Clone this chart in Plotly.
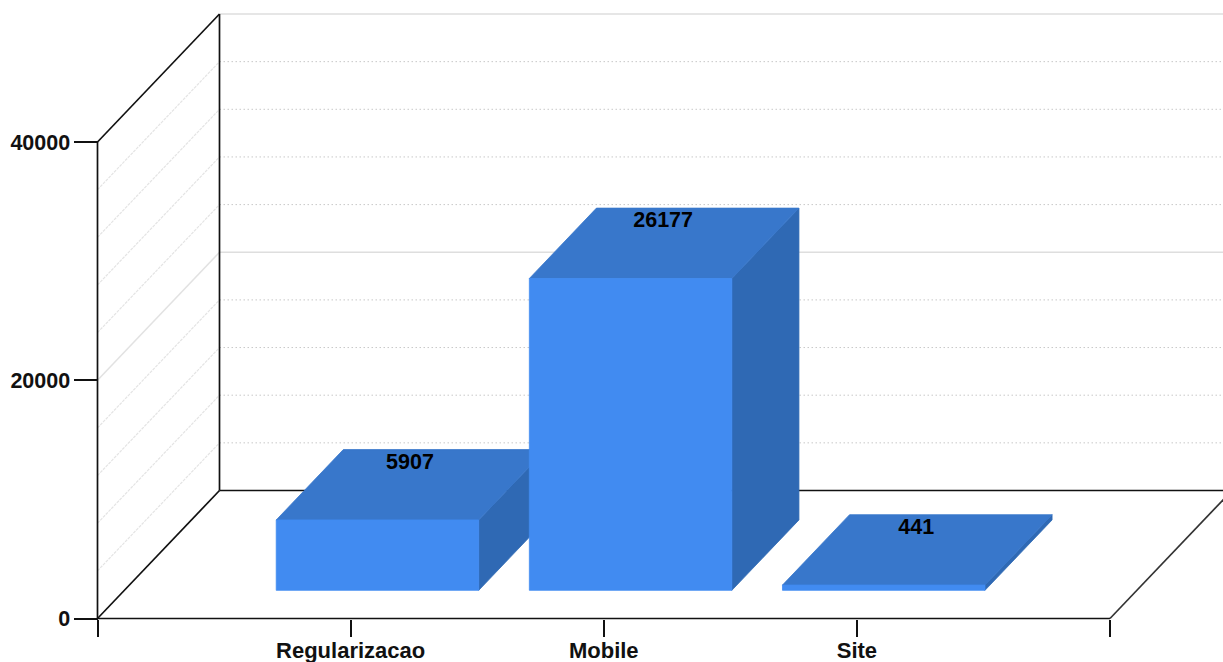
import plotly.graph_objects as go

categories = ["Regularizacao", "Mobile", "Site"]
values = [5907, 26177, 441]
y_ticks = [0, 20000, 40000]
major_grid = [20000, 40000]
minor_grid = [4000, 8000, 12000, 16000, 24000, 28000, 32000, 36000]

W, H = 1223, 662
X0_PX, X_UNIT = 97.5, 1012.5 / 4
Y0_PX, Y_UNIT = 618.5, 476.5 / 40000

# Oblique projection: a point (x, value, depth) with depth 0 at the front, 1 at the back wall
DX = 122 / X_UNIT
DY = 128 / Y_UNIT
X_MAX = 4
BAR_W = 0.8
D0, D1 = 0.22, 0.77
FONT = "Liberation Sans"
FS_CAT, FS_NUM = 22, 21.5
LW = 1.7


def proj(x, v, d):
    return x + d * DX, v + d * DY


def poly(points, color):
    xs, ys = zip(*[proj(*p) for p in points + points[:1]])
    return go.Scatter(x=xs, y=ys, mode="lines", fill="toself", fillcolor=color,
                      line=dict(color=color, width=0.8), cliponaxis=False,
                      hoverinfo="skip", showlegend=False)


def line(p, q, color="#111111", width=LW, dash="solid"):
    a, b = proj(*p), proj(*q)
    return go.Scatter(x=[a[0], b[0]], y=[a[1], b[1]], mode="lines",
                      line=dict(color=color, width=width, dash=dash),
                      hoverinfo="skip", showlegend=False)


fig = go.Figure()

for v in minor_grid:
    fig.add_trace(line((0, v, 1), (X_MAX, v, 1), "#c8c8c8", 1, "1.5px,2.5px"))
    fig.add_trace(line((0, v, 0), (0, v, 1), "#e4e4e4", 1.2, "3px,1px"))
for v in major_grid:
    fig.add_trace(line((0, v, 1), (X_MAX, v, 1), "#dedede", 1.5))
    if v < max(major_grid):
        fig.add_trace(line((0, v, 0), (0, v, 1), "#e2e2e2", 1.5))

# frame
fig.add_trace(line((0, 0, 0), (0, 40000, 0)))
fig.add_trace(line((0, 0, 0), (X_MAX, 0, 0)))
fig.add_trace(line((0, 40000, 0), (0, 40000, 1)))
fig.add_trace(line((0, 0, 1), (0, 40000, 1)))
fig.add_trace(line((0, 0, 0), (0, 0, 1)))
fig.add_trace(line((0, 0, 1), (X_MAX, 0, 1)))
fig.add_trace(line((X_MAX, 0, 0), (X_MAX, 0, 1), "#333333"))

# bars
for i, v in enumerate(values):
    c = i + 1
    l, r = c - BAR_W / 2, c + BAR_W / 2
    fig.add_trace(poly([(r, 0, D0), (r, 0, D1), (r, v, D1), (r, v, D0)], "#2f69b4"))
    fig.add_trace(poly([(l, v, D0), (r, v, D0), (r, v, D1), (l, v, D1)], "#3877cb"))
    fig.add_trace(poly([(l, 0, D0), (r, 0, D0), (r, v, D0), (l, v, D0)], "#418bf1"))

# value labels sit just under the back edge of each bar's top face
lx = [c + 1 + ((D0 + D1) / 2) * DX - 1 / X_UNIT for c in range(len(values))]
ly = [v + D1 * DY - 3 / Y_UNIT for v in values]
fig.add_trace(go.Scatter(x=lx, y=ly, mode="text", text=[str(v) for v in values],
                         textposition="bottom center", cliponaxis=False,
                         textfont=dict(family=FONT, size=FS_NUM, color="#000000", weight="bold"),
                         hoverinfo="skip", showlegend=False))

fig.update_layout(
    template="none",
    width=W, height=H, autosize=False,
    margin=dict(l=0, r=0, t=0, b=0, pad=0),
    paper_bgcolor="white", plot_bgcolor="white", showlegend=False,
    font=dict(family=FONT, size=FS_CAT, color="#111111", weight="bold"),
    xaxis=dict(range=[-X0_PX / X_UNIT, (W - X0_PX) / X_UNIT],
               anchor="free", position=(H - Y0_PX) / H, automargin=False,
               tickvals=[0, 1, 2, 3, 4], ticktext=[""] + categories + [""],
               showgrid=False, zeroline=False, showline=False, ticklabelstandoff=-5,
               ticks="outside", ticklen=17, tickwidth=LW, tickcolor="#111111",
               tickfont=dict(family=FONT, size=FS_CAT, color="#111111", weight="bold")),
    yaxis=dict(range=[-(H - Y0_PX) / Y_UNIT, Y0_PX / Y_UNIT],
               anchor="free", position=X0_PX / W, automargin=False,
               tickvals=y_ticks, ticktext=[str(t) for t in y_ticks],
               showgrid=False, zeroline=False, showline=False, ticklabelstandoff=-1,
               ticks="outside", ticklen=24, tickwidth=LW, tickcolor="#111111",
               tickfont=dict(family=FONT, size=FS_NUM, color="#111111", weight="bold")),
)

fig.write_html("out.html", config={"displayModeBar": False},
               post_script="document.body.style.margin='0';")
